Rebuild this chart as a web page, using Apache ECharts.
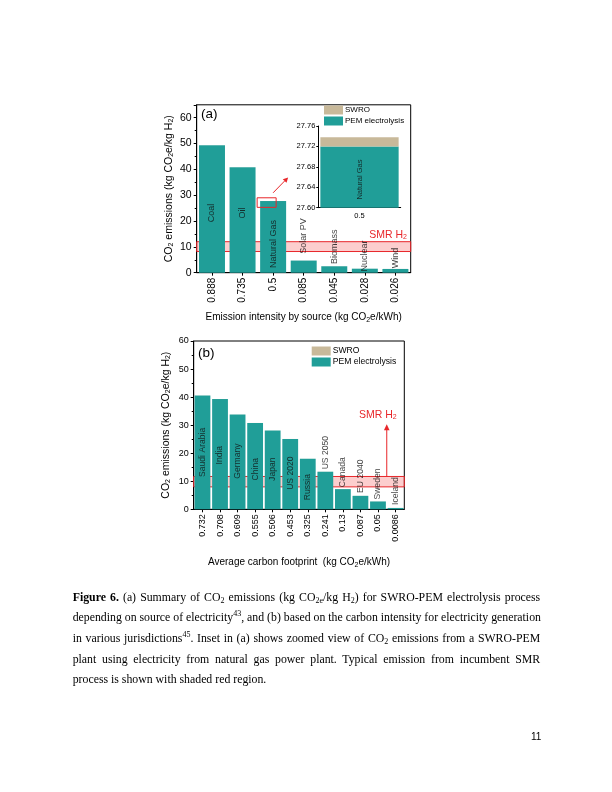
<!DOCTYPE html>
<html><head><meta charset="utf-8">
<script src="https://cdn.jsdelivr.net/npm/echarts@6/dist/echarts.min.js"></script>
<style>
html,body{margin:0;padding:0;background:#fff;}
#chart{position:absolute;left:0;top:0;width:612px;height:792px;}
#cap{position:absolute;left:72.7px;top:586.5px;width:467.5px;font-family:"Liberation Serif","Times New Roman",serif;font-size:11.8px;line-height:20.7px;color:#000;}
#cap div{text-align:justify;text-align-last:justify;height:20.7px;white-space:nowrap;}
#cap div.last{text-align:left;text-align-last:left;}
#cap sub{font-size:8px;vertical-align:-2px;line-height:0;}
#cap sup{font-size:8px;vertical-align:5px;line-height:0;}
#pg{position:absolute;left:531px;top:731px;font-family:"Liberation Sans",Arial,sans-serif;font-size:10px;color:#000;}
</style></head>
<body>
<div id="chart"></div>
<div id="cap">
<div><b>Figure 6.</b> (a) Summary of CO<sub>2</sub> emissions (kg CO<sub>2e</sub>/kg H<sub>2</sub>) for SWRO-PEM electrolysis process</div>
<div>depending on source of electricity<sup>43</sup>, and (b) based on the carbon intensity for electricity generation</div>
<div>in various jurisdictions<sup>45</sup>. Inset in (a) shows zoomed view of CO<sub>2</sub> emissions from a SWRO-PEM</div>
<div>plant using electricity from natural gas power plant. Typical emission from incumbent SMR</div>
<div class="last">process is shown with shaded red region.</div>
</div>
<div id="pg">11</div>
<script>
// ---- data (a) ----
const catsA = ['0.888','0.735','0.5','0.085','0.045','0.028','0.026'];
const namesA = ['Coal','Oil','Natural Gas','Solar PV','Biomass','Nuclear','Wind'];
const pemA = [49.3,40.8,27.72,4.7,2.5,1.55,1.45];
const swroA = [0.018,0.018,0.018,0.018,0.018,0.018,0.018];
const labelPosA = [23.1,23.1,11.1,14.2,10,6.5,5.7];
// ---- inset ----
const catsInset = ['0.5'];
const pemInset = [27.72];
const swroInset = [0.018];
const labelPosInset = [27.655];
// ---- data (b) ----
const catsB = ['0.732','0.708','0.609','0.555','0.506','0.453','0.325','0.241','0.13','0.087','0.05','0.0086'];
const namesB = ['Saudi Arabia','India','Germany','China','Japan','US 2020','Russia','US 2050','Canada','EU 2040','Sweden','Iceland'];
const pemB = [40.6,39.3,33.8,30.8,28.1,25.1,18.0,13.4,7.2,4.8,2.8,0.48];
const swroB = [0.018,0.018,0.018,0.018,0.018,0.018,0.018,0.018,0.018,0.018,0.018,0.018];
const labelPosB = [20.3,19.3,17.2,14.3,14.3,12.9,7.9,20.2,13.2,11.8,9.0,6.5];
// SMR band
const smrA = [8.2, 12.0];
const smrB = [8.0, 11.7];

const TEAL = '#209E98', TAN = '#C8B99A', RED = '#E8262A';
const FONT = '"Liberation Sans", Arial, sans-serif';
const sub = {fontSize: 7, padding: [5,0,0,0], fontFamily: FONT, color:'#000'};

const chart = echarts.init(document.getElementById('chart'), null, {renderer:'canvas'});

function valAxis(grid, max, fs, nameStr){
  return {
    type:'value', gridIndex:grid, min:0, max:max, interval:10,
    axisLine:{show:true, lineStyle:{color:'#000', width:1}},
    axisTick:{show:true, length:3, lineStyle:{color:'#000'}},
    minorTick:{show:true, splitNumber:2, length:2, lineStyle:{color:'#000'}},
    splitLine:{show:false},
    axisLabel:{fontSize:fs, color:'#000', fontFamily:FONT, margin:5, showMaxLabel: max===60, showMinLabel:true},
    name:nameStr, nameLocation:'middle', nameGap:22,
    nameTextStyle:{fontSize:10.5, color:'#000', fontFamily:FONT, rich:{s:sub}}
  };
}
function catAxis(grid, data, fs, nameStr, gap){
  return {
    type:'category', gridIndex:grid, data:data,
    axisLine:{show:true, lineStyle:{color:'#000', width:1}},
    axisTick:{show:true, alignWithLabel:true, length:3, lineStyle:{color:'#000'}},
    axisLabel:{rotate:90, fontSize:fs, color:'#000', fontFamily:FONT, margin:5, interval:0},
    name:nameStr, nameLocation:'middle', nameGap:gap,
    nameTextStyle:{fontSize:10, color:'#000', fontFamily:FONT, rich:{s:sub}}
  };
}
const yName = 'CO{s|2} emissions (kg CO{s|2}e/kg H{s|2})';

function labelSeries(x, y, pos, names, fs){
  return {
    type:'scatter', xAxisIndex:x, yAxisIndex:y, z:6, silent:true,
    symbolSize:1, itemStyle:{color:'rgba(0,0,0,0)'},
    data: pos.map((v,i)=>[i, v]),
    label:{show:true, position:'inside', rotate:90, fontSize:fs, color:'#111', fontFamily:FONT,
      formatter:p=>names[p.dataIndex]}
  };
}
function bandSeries(x, y, band){
  return {
    type:'line', xAxisIndex:x, yAxisIndex:y, z:5, silent:true, data:[],
    markArea:{silent:true, itemStyle:{color:'rgba(245,80,80,0.28)', borderColor:RED, borderWidth:1},
      data:[[{yAxis:band[0]},{yAxis:band[1]}]]}
  };
}
function legendAt(left, top, fs){
  return {data:['SWRO','PEM electrolysis'], left:left, top:top, orient:'vertical', padding:0, itemGap:2,
    itemWidth:19, itemHeight:9, icon:'rect', selectedMode:false,
    textStyle:{fontSize:fs, color:'#000', fontFamily:FONT, padding:[0,0,0,-3]}};
}

const option = {
  animation:false,
  backgroundColor:'#fff',
  grid:[
    {left:196.7, top:104.8, width:214, height:167.9, show:true, borderColor:'#000', borderWidth:1, backgroundColor:'transparent'},
    {left:318.3, top:126, width:82.4, height:81.7, show:true, borderWidth:0, backgroundColor:'#fff'},
    {left:193.7, top:341, width:210.6, height:168.3, show:true, borderColor:'#000', borderWidth:1, backgroundColor:'transparent'}
  ],
  legend:[ legendAt(324, 105.5, 8), legendAt(311.7, 346.5, 8.6) ],
  xAxis:[
    catAxis(0, catsA, 10, 'Emission intensity by source (kg CO{s|2}e/kWh)', 39),
    {type:'category', gridIndex:1, data:catsInset,
     axisLine:{show:true, lineStyle:{color:'#000'}}, axisTick:{show:false},
     axisLabel:{fontSize:7.5, color:'#000', fontFamily:FONT, margin:4}},
    catAxis(2, catsB, 9, 'Average carbon footprint  (kg CO{s|2}e/kWh)', 47)
  ],
  yAxis:[
    valAxis(0, 65, 10.5, yName),
    {type:'value', gridIndex:1, min:27.6, max:27.76, interval:0.04,
     axisLine:{show:true, lineStyle:{color:'#000'}},
     axisTick:{show:true, length:2, lineStyle:{color:'#000'}},
     splitLine:{show:false},
     axisLabel:{fontSize:7.5, color:'#000', fontFamily:FONT, margin:3, formatter:v=>v.toFixed(2)}},
    valAxis(2, 60, 9, yName)
  ],
  series:[
    {name:'PEM electrolysis', type:'bar', xAxisIndex:0, yAxisIndex:0, stack:'a', data:pemA, itemStyle:{color:TEAL}, barCategoryGap:'15%'},
    {name:'SWRO', type:'bar', xAxisIndex:0, yAxisIndex:0, stack:'a', data:swroA, itemStyle:{color:TAN}},
    {name:'PEM electrolysis', type:'bar', xAxisIndex:1, yAxisIndex:1, stack:'i', data:pemInset, itemStyle:{color:TEAL}, barCategoryGap:'5%'},
    {name:'SWRO', type:'bar', xAxisIndex:1, yAxisIndex:1, stack:'i', data:swroInset, itemStyle:{color:TAN}},
    {name:'PEM electrolysis', type:'bar', xAxisIndex:2, yAxisIndex:2, stack:'b', data:pemB, itemStyle:{color:TEAL}, barCategoryGap:'10%'},
    {name:'SWRO', type:'bar', xAxisIndex:2, yAxisIndex:2, stack:'b', data:swroB, itemStyle:{color:TAN}},
    bandSeries(0,0,smrA),
    bandSeries(2,2,smrB),
    labelSeries(0,0,labelPosA,namesA,9),
    labelSeries(1,1,labelPosInset,['Natural Gas'],7.5),
    labelSeries(2,2,labelPosB,namesB,8.6)
  ]
};
chart.setOption(option);

// annotations anchored via the library's coordinate conversion
const pA2top = chart.convertToPixel({gridIndex:0}, [2, 29]);
const pA2bot = chart.convertToPixel({gridIndex:0}, [2, 25.3]);
const rx0 = pA2top[0] - 16, rx1 = pA2top[0] + 3;
const ax0 = pA2top[0], ay0 = pA2top[1] - 5, ax1 = ax0 + 15, ay1 = ay0 - 15.4;
const dx = ax1-ax0, dy = ay1-ay0, L = Math.hypot(dx,dy), ux = dx/L, uy = dy/L;
const hl = 5, hw = 2.6;
const headA = [[ax1,ay1],[ax1-ux*hl-uy*hw, ay1-uy*hl+ux*hw],[ax1-ux*hl+uy*hw, ay1-uy*hl-ux*hw]];

const catWB = 210.6/catsB.length;
const pB10 = chart.convertToPixel({gridIndex:2}, [10, smrB[1]]);
const pBtop = chart.convertToPixel({gridIndex:2}, [10, 30.3]);
const bx = pB10[0] + catWB/2;
const pSmrA = chart.convertToPixel({gridIndex:0}, [6, 14.6]);
const pSmrB = chart.convertToPixel({gridIndex:2}, [10, 33.6]);
const redRich = {s:{fontSize:7, padding:[5,0,0,0], fill:RED, fontFamily:FONT}};

chart.setOption({
  graphic:[
    {type:'text', left:201, top:107, z:10, style:{text:'(a)', fontSize:13.5, fill:'#000', fontFamily:FONT}},
    {type:'text', left:198, top:346, z:10, style:{text:'(b)', fontSize:13.5, fill:'#000', fontFamily:FONT}},
    {type:'rect', z:10, shape:{x:rx0, y:pA2top[1], width:rx1-rx0, height:pA2bot[1]-pA2top[1]},
     style:{fill:'none', stroke:RED, lineWidth:1}},
    {type:'line', z:10, shape:{x1:ax0, y1:ay0, x2:ax1-ux*hl, y2:ay1-uy*hl}, style:{stroke:RED, lineWidth:1}},
    {type:'polygon', z:10, shape:{points:headA}, style:{fill:RED}},
    {type:'text', z:10, x:407, y:pSmrA[1], style:{text:'SMR H{s|2}', align:'right', verticalAlign:'middle',
      fontSize:10.5, fill:RED, fontFamily:FONT, rich:redRich}},
    {type:'line', z:10, shape:{x1:bx, y1:pB10[1], x2:bx, y2:pBtop[1]+5}, style:{stroke:RED, lineWidth:1}},
    {type:'polygon', z:10, shape:{points:[[bx,pBtop[1]],[bx-2.8,pBtop[1]+6],[bx+2.8,pBtop[1]+6]]}, style:{fill:RED}},
    {type:'text', z:10, x:bx-9, y:pSmrB[1], style:{text:'SMR H{s|2}', align:'center', verticalAlign:'middle',
      fontSize:10.5, fill:RED, fontFamily:FONT, rich:redRich}}
  ]
});
</script>
</body></html>
